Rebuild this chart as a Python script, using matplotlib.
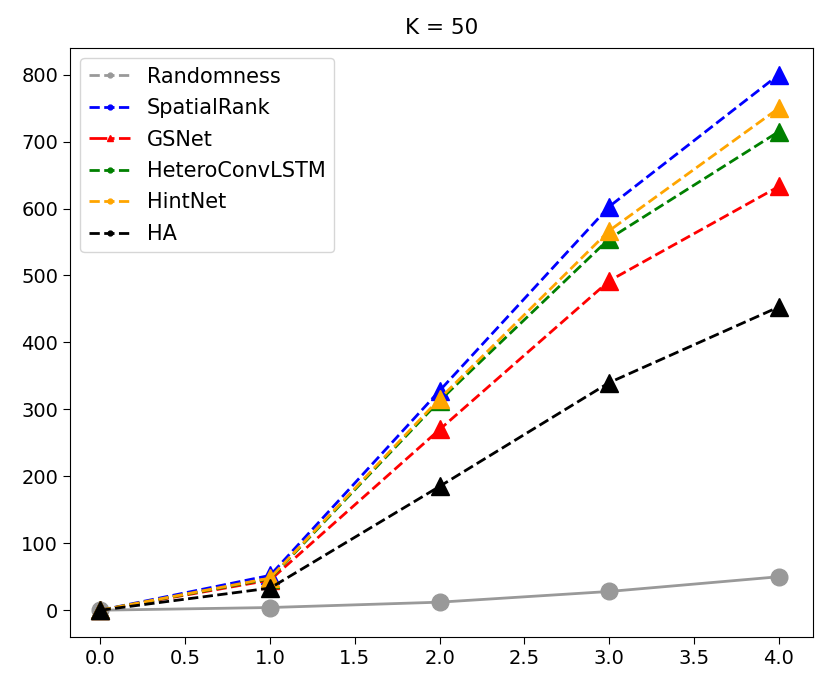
import matplotlib.pyplot as plt
from matplotlib.lines import Line2D

x = [0, 1, 2, 3, 4]
randomness = [0, 4, 12, 28, 50]
spatialrank = [0, 52, 328, 603, 800]
gsnet = [0, 45, 270, 492, 633]
heteroconvlstm = [0, 47, 313, 555, 715]
hintnet = [0, 48, 316, 567, 750]
ha = [0, 33, 185, 340, 453]

names = ['Randomness', 'SpatialRank', 'GSNet', 'HeteroConvLSTM', 'HintNet', 'HA']
colors = ['#999999', 'blue', 'red', 'green', 'orange', 'black']

fig = plt.figure(figsize=(8.29, 6.89), dpi=100)
ax = fig.add_axes([0.0844, 0.0755, 0.896, 0.855])

ax.plot(x, randomness, '-', color=colors[0], marker='o', markersize=12, linewidth=2)
series = [spatialrank, gsnet, heteroconvlstm, hintnet, ha]
for ys, c in zip(series, colors[1:]):
    ax.plot(x, ys, '--', color=c, marker='^', markersize=13, linewidth=2)

# legend handles drawn separately (small markers, dashed)
handles = []
for n, c in zip(names, colors):
    if n == 'GSNet':
        h = Line2D([], [], color=c, linestyle='-.', marker='^', markersize=5, linewidth=2)
    else:
        h = Line2D([], [], color=c, linestyle='--', marker='.', markersize=7, linewidth=2)
    handles.append(h)
ax.legend(handles, names, loc='upper left', fontsize=15, labelspacing=0.55)

ax.set_title('K = 50', fontsize=15.5, pad=10)
ax.set_xticks([0, 0.5, 1, 1.5, 2, 2.5, 3, 3.5, 4])
ax.set_yticks(range(0, 900, 100))
ax.tick_params(labelsize=14, length=5)
ax.set_xlim(-0.18, 4.2)
ax.set_ylim(-40, 840)

fig.savefig('out.png', dpi=100)
